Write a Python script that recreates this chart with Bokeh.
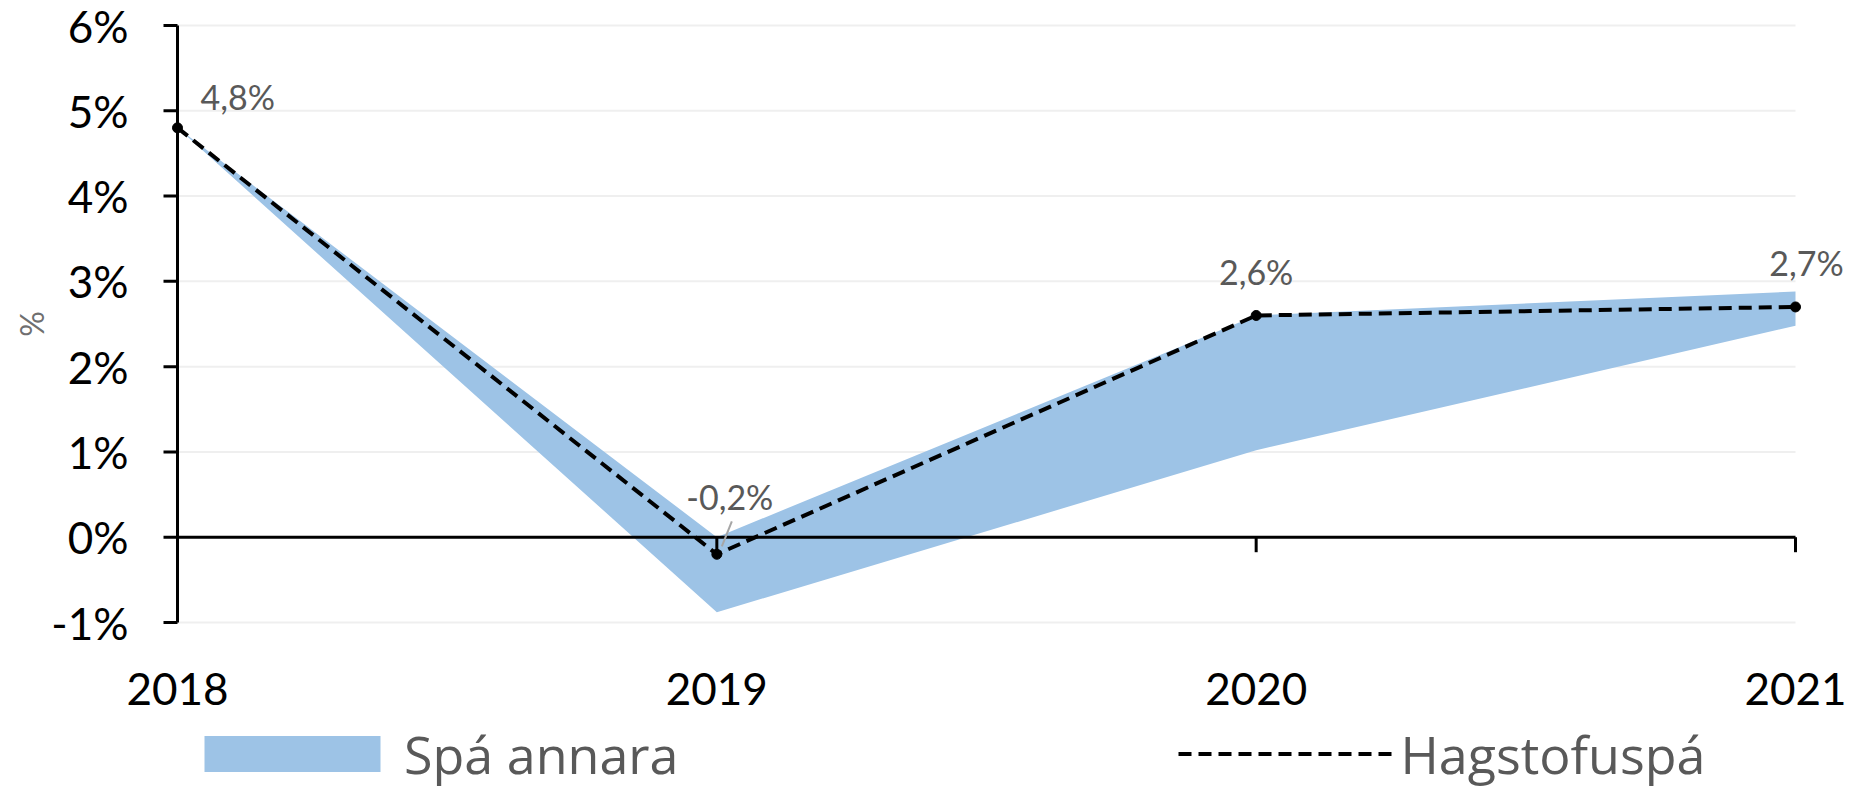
import math
from bokeh.plotting import figure
from bokeh.models import ColumnDataSource, Label, Legend, LegendItem, Range1d
from bokeh.embed import file_html
from bokeh.resources import INLINE

# ---- data ----
years = [2018, 2019, 2020, 2021]
hagstofuspa = [4.8, -0.2, 2.6, 2.7]
annara_low = [4.8, -0.88, 1.02, 2.48]
annara_high = [4.8, 0.0, 2.6, 2.88]
y_ticks = [-1, 0, 1, 2, 3, 4, 5, 6]

FONT = "Lato"
LEGEND_FONT = "Open Sans"
W, H = 1850, 790
AXIS_LEFT, AXIS_RIGHT = 177, 1795   # screen x of first / last category
AXIS_TOP, AXIS_BOTTOM = 25, 622     # screen y of highest / lowest tick
y_lo, y_hi = y_ticks[0], y_ticks[-1]
px_y = (AXIS_BOTTOM - AXIS_TOP) / (y_hi - y_lo)          # pixels per %
px_x = (AXIS_RIGHT - AXIS_LEFT) / (years[-1] - years[0])  # pixels per year
x0 = years[0] - AXIS_LEFT / px_x
x1 = x0 + W / px_x
y1 = y_hi + AXIS_TOP / px_y
y0 = y_lo - (H - AXIS_BOTTOM) / px_y

p = figure(width=W, height=H, output_backend="svg", toolbar_location=None,
           x_range=Range1d(x0, x1), y_range=Range1d(y0, y1),
           min_border_left=0, min_border_right=0, min_border_top=0, min_border_bottom=0)
p.outline_line_color = None
p.background_fill_color = "white"
p.border_fill_color = "white"
p.xaxis.visible = False
p.yaxis.visible = False
p.xgrid.grid_line_color = None
p.ygrid.grid_line_color = None

n = len(y_ticks)
# horizontal gridlines spanning the categories
p.segment(x0=[years[0]] * n, y0=y_ticks, x1=[years[-1]] * n, y1=y_ticks,
          line_color="#efefef", line_width=2)

src = ColumnDataSource(dict(x=years, hag=hagstofuspa, lo=annara_low, hi=annara_high))
band = p.varea(x="x", y1="lo", y2="hi", source=src, fill_color="#9dc3e6", fill_alpha=1.0)

# zero line with category tick marks pointing down
tick_len_y = 15 / px_y
p.segment(x0=[years[0]], y0=[0], x1=[years[-1]], y1=[0], line_color="black", line_width=3)
p.segment(x0=years[1:], y0=[0] * 3, x1=years[1:], y1=[-tick_len_y] * 3,
          line_color="black", line_width=3)

# y axis: line, ticks, labels, title
tick_len_x = 14 / px_x
p.segment(x0=[years[0]], y0=[y_lo], x1=[years[0]], y1=[y_hi], line_color="black", line_width=3)
p.segment(x0=[years[0] - tick_len_x] * n, y0=y_ticks, x1=[years[0]] * n, y1=y_ticks,
          line_color="black", line_width=3)
for t in y_ticks:
    p.add_layout(Label(x=years[0], y=t, x_offset=-49, text=f"{t}%",
                       text_font=FONT, text_font_size="44px", text_color="black",
                       text_align="right", text_baseline="middle"))
p.add_layout(Label(x=years[0], y=(y_lo + y_hi) / 2, x_offset=-146, text="%", angle=math.pi / 2,
                   text_font=FONT, text_font_size="32px", text_color="#6f6f6f",
                   text_align="center", text_baseline="middle"))

line = p.line(x="x", y="hag", source=src, line_color="black", line_width=4, line_dash="13 7")
p.scatter(x="x", y="hag", source=src, size=10, color="black")

# category labels below the lowest gridline
for yr in years:
    p.add_layout(Label(x=yr, y=y_lo, y_offset=-66, text=str(yr),
                       text_font=FONT, text_font_size="44px", text_color="black",
                       text_align="center", text_baseline="middle"))

# data labels
label_offsets = [(23, 31, "left"), (13, 58, "center"), (0, 44, "center"), (11, 44, "center")]
for xv, yv, (dx, dy, al) in zip(years, hagstofuspa, label_offsets):
    txt = f"{yv:.1f}".replace(".", ",") + "%"
    p.add_layout(Label(x=xv, y=yv, x_offset=dx, y_offset=dy, text=txt,
                       text_font=FONT, text_font_size="34px", text_color="#595959",
                       text_align=al, text_baseline="middle"))

# leader line for the 2019 label
p.segment(x0=[years[1] + 15 / px_x], y0=[hagstofuspa[1] + 33 / px_y],
          x1=[years[1] + 5 / px_x], y1=[hagstofuspa[1] + 8 / px_y],
          line_color="#a6a6a6", line_width=2)

# legend
legend = Legend(items=[LegendItem(label="Spá annara", renderers=[band]),
                       LegendItem(label="Hagstofuspá", renderers=[line])],
                orientation="horizontal", location=(182, 1),
                border_line_color=None, background_fill_alpha=0, padding=0, margin=0,
                label_text_font=LEGEND_FONT, label_text_font_size="52px",
                label_text_color="#595959", glyph_height=45, glyph_width=220,
                label_standoff=2, spacing=500)
p.add_layout(legend)

open("out.html", "w").write(file_html(p, INLINE))
